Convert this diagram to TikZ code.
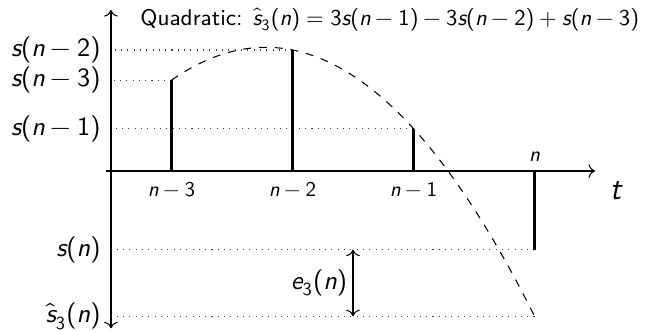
\documentclass[tikz,border=0pt]{standalone}
\usepackage{amsmath}
\usepackage{unicode-math}
\setmathfont{Latin Modern Math}
\setmathfont[range=it->up]{lmsans10-oblique.otf}
\setmathfont[range=up/num]{lmsans10-regular.otf}
\setmathfont[range={"28,"29}]{lmsans10-regular.otf}
\usepackage{tikz}
\usetikzlibrary{
  arrows.meta,
  positioning,
  calc
}
\tikzset{
  axisline/.style={->, thin, black},
  stem/.style={very thick, black},
  guide/.style={dotted, thin, black!75},
  predline/.style={dashed, thin, black},
  errline/.style={<->, thin, black},
  vallabel/.style={anchor=east, font=\normalsize, inner sep=1pt},
  ticklabel/.style={font=\footnotesize, inner sep=1pt},
  titlelabel/.style={font=\fontsize{8.6}{10}\selectfont, inner sep=1pt}
}
\begin{document}
\sffamily
\begin{tikzpicture}[x=46pt, y=46pt]
  \useasboundingbox (-0.917,-1.322) rectangle (4.421,1.413);
  % sample values
  \coordinate (o) at (0,0);
  \coordinate (s3) at (0.5,0.75);
  \coordinate (s2) at (1.5,1.0);
  \coordinate (s1) at (2.5,0.35);
  \coordinate (s0) at (3.5,-0.65);
  \coordinate (sh) at (3.5,-1.2);
  % axes
  \coordinate (xa) at (-0.04,0);
  \coordinate (xb) at (4.0,0);
  \coordinate (ya) at (0,-1.3);
  \coordinate (yb) at (0,1.33);
  \draw[axisline] (xa) -- (xb);
  \draw[axisline, <->] (ya) -- (yb);
  \node[font=\fontsize{12}{14}\selectfont, inner sep=1pt] (tlab) at (4.17,-0.16) {$t$};
  % guides to the y axis
  \draw[guide] (s2) -- (s2 -| o);
  \draw[guide] (s3) -- (s3 -| o);
  \draw[guide] (s1) -- (s1 -| o);
  \draw[guide] (s0) -- (s0 -| o);
  \draw[guide] (sh) -- (sh -| o);
  \node[vallabel] (l2) at ($(s2 -| o)+(-0.06,0)$) {$s(n-2)$};
  \node[vallabel] (l3) at ($(s3 -| o)+(-0.06,0)$) {$s(n-3)$};
  \node[vallabel] (l1) at ($(s1 -| o)+(-0.06,0)$) {$s(n-1)$};
  \node[vallabel] (l0) at ($(s0 -| o)+(-0.06,0)$) {$s(n)$};
  \node[vallabel] (lh) at ($(sh -| o)+(-0.06,0)$) {$\hat{s}_3(n)$};
  % stems
  \draw[stem] (s3 |- o) -- (s3);
  \draw[stem] (s2 |- o) -- (s2);
  \draw[stem] (s1 |- o) -- (s1);
  \draw[stem] (s0 |- o) -- (s0);
  \node[ticklabel] (t3) at (0.5,-0.15) {$n-3$};
  \node[ticklabel] (t2) at (1.5,-0.15) {$n-2$};
  \node[ticklabel] (t1) at (2.5,-0.15) {$n-1$};
  \node[ticklabel] (t0) at (3.5,0.12) {$n$};
  % quadratic through the last three samples
  \draw[predline, domain=0.5:3.5, samples=60]
    plot (\x, {1 - 0.2*(\x-1.5) - 0.45*(\x-1.5)^2});
  % prediction error
  \coordinate (ea) at (2.0,-0.65);
  \coordinate (eb) at (2.0,-1.2);
  \draw[errline] (ea) -- (eb);
  \node[anchor=east, inner sep=2pt] (elab) at ($(ea)!0.5!(eb)$) {$e_3(n)$};
  \node[titlelabel, anchor=east] (title) at (4.39,1.25)
    {Quadratic: $\hat{s}_3(n) = 3s(n-1) - 3s(n-2) + s(n-3)$};
\end{tikzpicture}
\end{document}
